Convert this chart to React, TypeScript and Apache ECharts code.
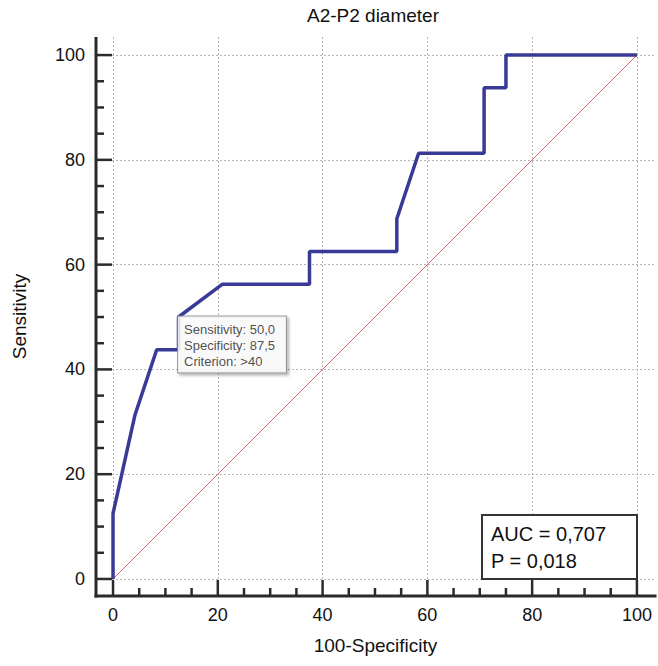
import React, { useEffect, useRef } from "react";
import * as echarts from "echarts";

// ROC curve points: x = 100 - Specificity, y = Sensitivity
const rocX = [0, 0, 4.17, 8.33, 12.5, 12.5, 20.83, 37.5, 37.5, 54.17, 54.17, 58.33, 70.83, 70.83, 75, 75, 100];
const rocY = [0, 12.5, 31.25, 43.75, 43.75, 50, 56.25, 56.25, 62.5, 62.5, 68.75, 81.25, 81.25, 93.75, 93.75, 100, 100];
// reference (chance) diagonal
const refX = [0, 100];
const refY = [0, 100];
// tick values
const majorTicks = [0, 20, 40, 60, 80, 100];
const minorTicks = [5, 10, 15, 25, 30, 35, 45, 50, 55, 65, 70, 75, 85, 90, 95];
// texts
const chartTitle = "A2-P2 diameter";
const xName = "100-Specificity";
const yName = "Sensitivity";
// optimal criterion point
const critX = [12.5];
const critY = [50.0];
const critLabel = [">40"];
const aucText = "0,707";
const pText = "0,018";

const FONT = "Liberation Sans, Arial, sans-serif";
const AX_MIN = -3.25;
const AX_MAX = 103.45;
const MAJOR_LEN = 16;
const MINOR_LEN = 8;
const FRAME_COLOR = "#2b2b2b";

const fmt = (v: number) => v.toFixed(1).replace(".", ",");

export default function App() {
  const ref = useRef<HTMLDivElement>(null);
  useEffect(() => {
    if (!ref.current) return;
    const chart = echarts.init(ref.current, null, { renderer: "svg" });

    const mainAxis = (isX: boolean) => ({
      type: "value",
      min: AX_MIN,
      max: AX_MAX,
      position: isX ? "bottom" : "left",
      axisLine: { show: false, onZero: false },
      axisTick: { show: false, customValues: majorTicks },
      axisLabel: {
        show: true,
        customValues: majorTicks,
        margin: isX ? 10 : 11,
        fontSize: 18,
        color: "#111",
        fontFamily: FONT,
      },
      splitLine: { show: true, lineStyle: { type: [2, 2], color: "#b5b5b5", width: 1 } },
      name: isX ? xName : yName,
      nameLocation: "middle",
      nameGap: isX ? 40 : 67,
      nameTextStyle: { fontSize: 19, color: "#111", fontFamily: FONT },
    });

    chart.setOption({
      animation: false,
      backgroundColor: "#fff",
      title: {
        text: chartTitle,
        left: 307,
        top: 6,
        padding: 0,
        textStyle: { fontSize: 19, fontWeight: "normal", color: "#111", fontFamily: FONT },
      },
      grid: { left: 96, right: 3, top: 37, bottom: 70, containLabel: false },
      xAxis: mainAxis(true),
      yAxis: mainAxis(false),
      series: [
        {
          type: "line",
          data: refX.map((x, i) => [x, refY[i]]),
          symbol: "none",
          lineStyle: { color: "#e06666", width: 1 },
          z: 2,
        },
        {
          type: "line",
          data: rocX.map((x, i) => [x, rocY[i]]),
          symbol: "none",
          lineStyle: { color: "#393996", width: 3.5 },
          z: 3,
        },
        {
          type: "scatter",
          data: critX.map((x, i) => [x, critY[i]]),
          symbolSize: 1,
          itemStyle: { color: "transparent" },
          z: 10,
          label: {
            show: true,
            position: [0, 0],
            formatter: (p: any) =>
              `Sensitivity: ${fmt(p.value[1])}\nSpecificity: ${fmt(100 - p.value[0])}\nCriterion: ${critLabel[p.dataIndex]}`,
            fontSize: 13,
            lineHeight: 16,
            color: "#222",
            fontFamily: FONT,
            align: "left",
            verticalAlign: "top",
            padding: [5, 11, 3, 6],
            backgroundColor: "#fff",
            borderColor: "#888",
            borderWidth: 1,
            shadowColor: "rgba(0,0,0,0.35)",
            shadowBlur: 3,
            shadowOffsetX: 2,
            shadowOffsetY: 2,
          },
        },
      ],
    });

    // axis frame and inward ticks, positioned through the axes' scales
    const toPx = (x: number, y: number) => chart.convertToPixel({ gridIndex: 0 }, [x, y]) as number[];
    const o = toPx(AX_MIN, AX_MIN);
    const xe = toPx(AX_MAX, AX_MIN);
    const ye = toPx(AX_MIN, AX_MAX);
    const tickStyle = { stroke: FRAME_COLOR, lineWidth: 2.5 };
    const ticks: any[] = [];
    const addTicks = (vals: number[], len: number) => {
      vals.forEach((v) => {
        const px = toPx(v, AX_MIN);
        const py = toPx(AX_MIN, v);
        ticks.push({ type: "line", shape: { x1: px[0], y1: o[1], x2: px[0], y2: o[1] - len }, style: tickStyle });
        ticks.push({ type: "line", shape: { x1: o[0], y1: py[1], x2: o[0] + len, y2: py[1] }, style: tickStyle });
      });
    };
    addTicks(majorTicks, MAJOR_LEN);
    addTicks(minorTicks, MINOR_LEN);

    chart.setOption({
      graphic: [
        {
          type: "group",
          z: 50,
          silent: true,
          children: [
            ...ticks,
            {
              type: "line",
              shape: { x1: o[0] - 1.5, y1: o[1], x2: xe[0] + 1.5, y2: xe[1] },
              style: { stroke: FRAME_COLOR, lineWidth: 3 },
            },
            {
              type: "line",
              shape: { x1: o[0], y1: o[1] + 1.5, x2: ye[0], y2: ye[1] },
              style: { stroke: FRAME_COLOR, lineWidth: 3 },
            },
          ],
        },
        {
          type: "group",
          z: 100,
          children: [
            {
              type: "rect",
              shape: { x: 482, y: 515, width: 155, height: 64 },
              style: { fill: "#fff", stroke: "#333", lineWidth: 2 },
            },
            {
              type: "text",
              x: 491,
              y: 520,
              style: {
                text: `AUC = ${aucText}\nP = ${pText}`,
                font: `20px ${FONT}`,
                fill: "#111",
                lineHeight: 27,
              },
            },
          ],
        },
      ],
    });
    return () => chart.dispose();
  }, []);
  return <div ref={ref} style={{ position: "fixed", left: 0, top: 0, width: 658, height: 666 }} />;
}
